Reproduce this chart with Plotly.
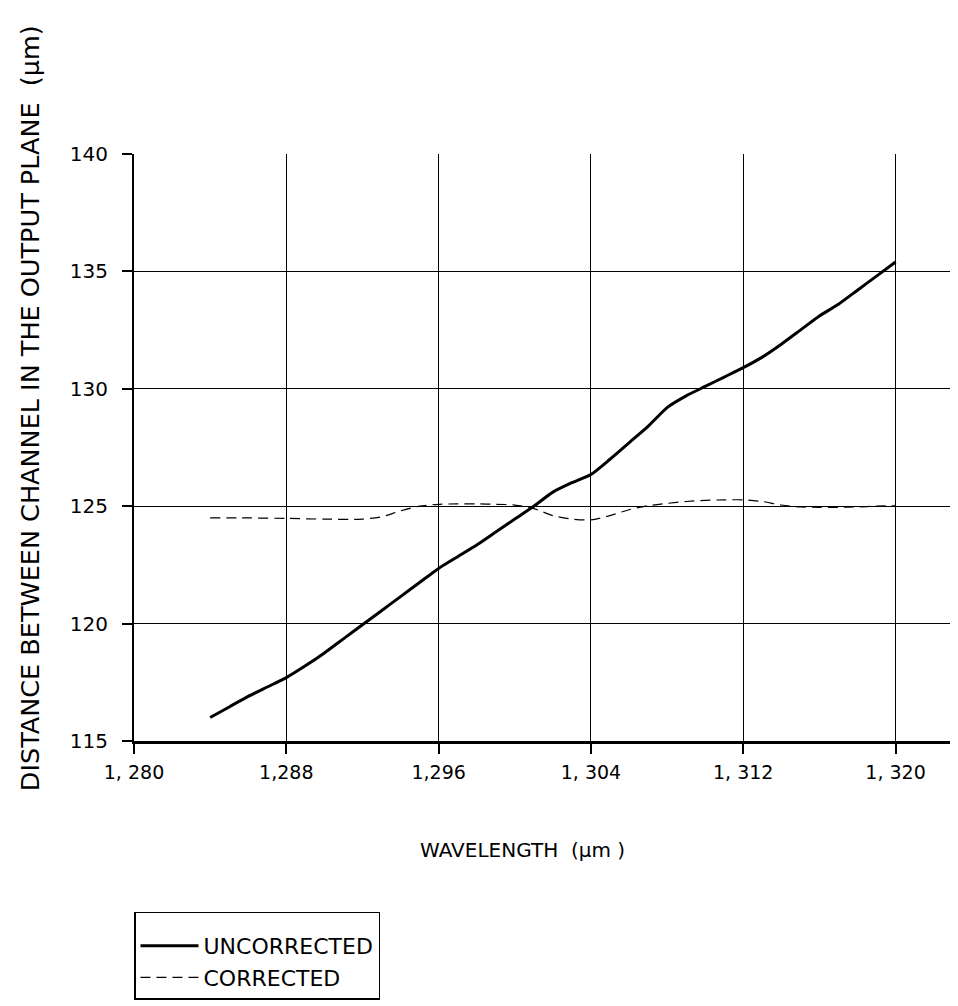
import plotly.graph_objects as go

# Wavelength values (x) and channel distances (y)
wl_uncorr = [1284, 1285, 1286, 1287, 1288, 1289, 1290, 1291, 1292, 1293, 1294,
             1295, 1296, 1297, 1298, 1299, 1300, 1301, 1302, 1303, 1304, 1305,
             1306, 1307, 1308, 1309, 1310, 1311, 1312, 1313, 1314, 1315, 1316,
             1317, 1318, 1319, 1320]
uncorrected = [116.0, 116.45, 116.9, 117.3, 117.7, 118.2, 118.75, 119.35, 119.95,
               120.55, 121.15, 121.75, 122.35, 122.85, 123.35, 123.9, 124.45, 125.0,
               125.6, 126.0, 126.35, 127.0, 127.7, 128.4, 129.2, 129.7, 130.1,
               130.5, 130.9, 131.35, 131.9, 132.5, 133.1, 133.6, 134.2, 134.8, 135.4]

wl_corr = [1284, 1286, 1288, 1290, 1292, 1293, 1294, 1295, 1296, 1297, 1298,
           1299, 1300, 1301, 1302, 1303, 1304, 1305, 1306, 1307, 1308, 1309,
           1310, 1311, 1312, 1313, 1314, 1315, 1316, 1317, 1318, 1319, 1320]
corrected = [124.5, 124.5, 124.48, 124.45, 124.45, 124.55, 124.8, 125.0, 125.08,
             125.1, 125.1, 125.08, 125.05, 124.9, 124.6, 124.45, 124.42, 124.6,
             124.85, 125.02, 125.12, 125.2, 125.25, 125.27, 125.27, 125.2, 125.05,
             124.97, 124.95, 124.95, 124.97, 125.0, 125.02]

x_ticks = [1280, 1288, 1296, 1304, 1312, 1320]
x_tick_text = ["1, 280", "1,288", "1,296", "1, 304", "1, 312", "1, 320"]
y_ticks = [115, 120, 125, 130, 135, 140]
y_tick_text = ["115", "120", "125", "130", "135", "140"]

FONT = "DejaVu Sans"

fig = go.Figure()
fig.add_trace(go.Scatter(x=wl_uncorr, y=uncorrected, mode="lines", name="UNCORRECTED",
                         line=dict(color="black", width=3, shape="spline", smoothing=0.6)))
fig.add_trace(go.Scatter(x=wl_corr, y=corrected, mode="lines", name="CORRECTED",
                         line=dict(color="black", width=1.2, dash="10px,6px",
                                   shape="spline", smoothing=0.8)))

fig.update_layout(
    width=958, height=1006,
    margin=dict(l=126, r=0, t=146, b=273),
    paper_bgcolor="white", plot_bgcolor="white",
    font=dict(family=FONT, size=18, color="black"),
    showlegend=True,
    legend=dict(x=0, y=-0.291, xanchor="left", yanchor="top",
                bordercolor="black", borderwidth=1.5, bgcolor="white",
                font=dict(family=FONT, size=22, color="black"),
                title=dict(text=" ", font=dict(size=9)),
                itemwidth=58, tracegroupgap=0),
    xaxis=dict(range=[1280, 1323.7], tickvals=x_ticks, ticktext=x_tick_text,
               showgrid=True, gridcolor="black", gridwidth=1,
               showline=True, linecolor="black", linewidth=2.5,
               ticks="outside", ticklen=10, tickcolor="black", tickwidth=1.5,
               zeroline=False, tickfont=dict(size=19), ticklabelstandoff=2),
    yaxis=dict(range=[115, 140], tickvals=y_ticks, ticktext=y_tick_text,
               showgrid=True, gridcolor="black", gridwidth=1,
               showline=True, linecolor="black", linewidth=2,
               ticks="outside", ticklen=10, tickcolor="black", tickwidth=1.5,
               zeroline=False, tickfont=dict(size=20), ticklabelstandoff=10),
    annotations=[
        dict(text="DISTANCE BETWEEN CHANNEL IN THE OUTPUT PLANE  (μm)",
             xref="paper", yref="paper", x=-0.125, y=0.567, textangle=-90,
             showarrow=False, font=dict(family=FONT, size=25.5), xanchor="center", yanchor="middle"),
        dict(text="WAVELENGTH  (μm )", xref="paper", yref="paper", x=0.4675, y=-0.1857,
             showarrow=False, font=dict(family=FONT, size=20), xanchor="center", yanchor="middle"),
    ],
)

fig.write_html("out.html")
